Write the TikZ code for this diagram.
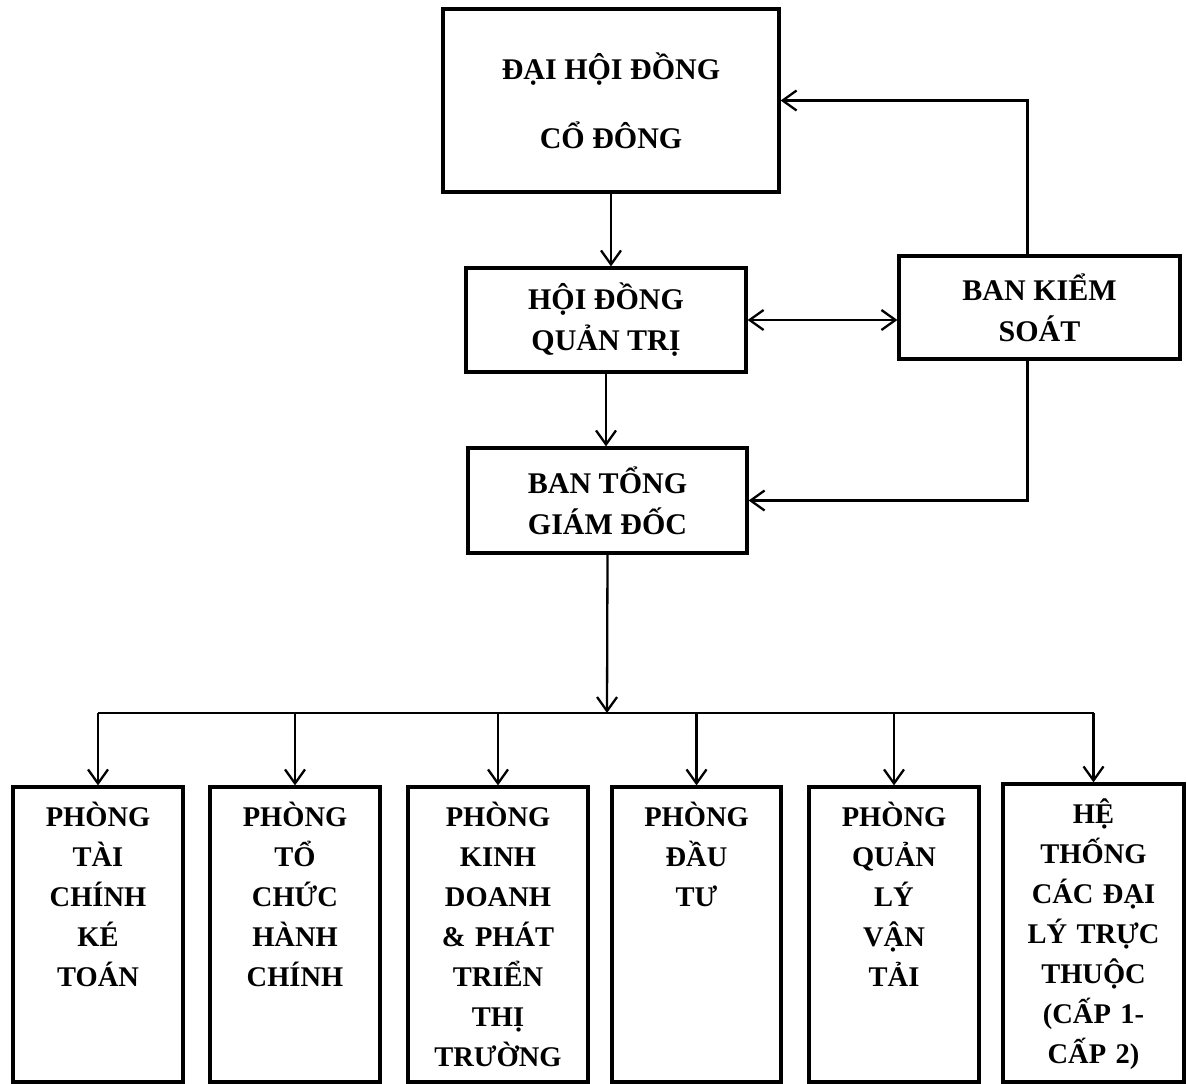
\documentclass[tikz,border=0pt]{standalone}
\usepackage{fontspec}
\setmainfont{Liberation Serif}
\usetikzlibrary{arrows.meta}

\begin{document}
\begin{tikzpicture}[x=1pt, y=-1pt,
        >={Straight Barb[length=14pt, width=20pt]},
        box/.style = {draw, line width=3.2pt, inner sep=0pt, align=center,
                      font=\bfseries\fontsize{30}{41}\selectfont},
        dept/.style = {draw, line width=3.2pt, inner sep=0pt, minimum height=295pt},
        depttext/.style = {anchor=base, text width=170pt, align=center, inner sep=0pt,
                           font=\bfseries\fontsize{28.5}{40}\selectfont},
        link/.style = {line width=2.3pt}]
    \useasboundingbox (0, 0) rectangle (1187, 1084);

    % upper levels
    \node [box, minimum width=336pt, minimum height=183pt,
           font=\bfseries\fontsize{30}{69}\selectfont] (dhdcd) at (611, 100.5) {ĐẠI HỘI ĐỒNG\\CỔ ĐÔNG};
    \node [box, minimum width=280pt, minimum height=104pt] (hdqt) at (606, 320) {HỘI ĐỒNG\\QUẢN TRỊ};
    \node [box, minimum width=281pt, minimum height=103pt] (bks) at (1039.5, 307.5) {BAN KIỂM\\SOÁT};
    \node [box, minimum width=279pt, minimum height=105pt] (btgd) at (607.5, 500.5) {BAN TỔNG\\GIÁM ĐỐC};

    \coordinate (bus) at (607, 713);

    % departments
    \node [dept, minimum width=170pt] (pTC) at (98, 934.5) {};
    \node [dept, minimum width=170pt] (pTCHC) at (295, 934.5) {};
    \node [dept, minimum width=180pt] (pKD) at (498, 934.5) {};
    \node [dept, minimum width=169pt] (pDT) at (696.5, 934.5) {};
    \node [dept, minimum width=170pt] (pQL) at (894, 934.5) {};
    \node [dept, minimum width=181pt, minimum height=298pt] (pHT) at (1093.5, 933) {};

    \node [depttext] (tTC) at ([yshift=-41pt]pTC.north) {PHÒNG\\TÀI\\CHÍNH\\KÉ\\TOÁN};
    \node [depttext] (tTCHC) at ([yshift=-41pt]pTCHC.north) {PHÒNG\\TỔ\\CHỨC\\HÀNH\\CHÍNH};
    \node [depttext] (tKD) at ([yshift=-41pt]pKD.north) {PHÒNG\\KINH\\DOANH\\\& PHÁT\\TRIỂN\\THỊ\\TRƯỜNG};
    \node [depttext] (tDT) at ([yshift=-41pt]pDT.north) {PHÒNG\\ĐẦU\\TƯ};
    \node [depttext] (tQL) at ([yshift=-41pt]pQL.north) {PHÒNG\\QUẢN\\LÝ\\VẬN\\TẢI};
    \node [depttext] (tHT) at ([yshift=-41pt]pHT.north) {HỆ\\THỐNG\\CÁC ĐẠI\\LÝ TRỰC\\THUỘC\\(CẤP 1-\\CẤP 2)};

    % connectors
    \draw [link, ->] (dhdcd.south) -- (dhdcd.south |- hdqt.north);
    \draw [link, ->] (hdqt.south) -- (hdqt.south |- btgd.north);
    \draw [link, <->] (hdqt.east) -- (hdqt.east -| bks.west);
    \draw [link, ->] ([xshift=-12pt]bks.north) |- (dhdcd.east);
    \draw [link, ->] ([xshift=-12pt]bks.south) |- (btgd.east);
    \draw [link, ->] (btgd.south) -- (bus);
    \draw [link] (pTC.north |- bus) -- (pHT.north |- bus);
    \foreach \d in {pTC, pTCHC, pKD, pDT, pQL, pHT}
        \draw [link, ->] (\d.north |- bus) -- (\d.north);
\end{tikzpicture}
\end{document}
